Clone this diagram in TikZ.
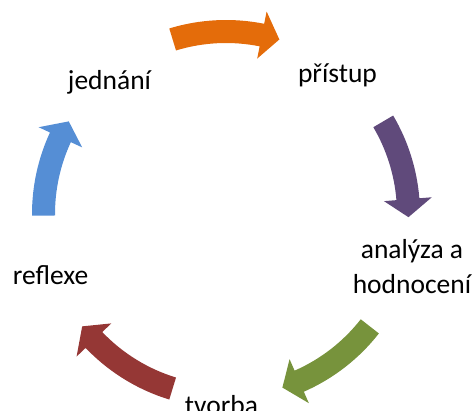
\documentclass[tikz,border=0pt]{standalone}
\usepackage{fontspec}
\setmainfont{Carlito}
\usetikzlibrary{calc}
\definecolor{arrOrange}{HTML}{E46C0A}
\definecolor{arrPurple}{HTML}{604A7B}
\definecolor{arrGreen}{HTML}{77933C}
\definecolor{arrRed}{HTML}{953735}
\definecolor{arrBlue}{HTML}{558ED5}
\begin{document}
\begin{tikzpicture}[x=1pt,y=1pt,
  lbl/.style={font=\fontsize{27.5}{35}\selectfont, inner sep=0pt, anchor=base, text=black}]
\useasboundingbox (0,0) rectangle (474,410);
\coordinate (C) at (226,196);
\foreach \ta/\ha/\ca in {107/73/arrOrange, 30.5/-1/arrPurple, -38/-72/arrGreen, -107/-142/arrRed, 180.5/149.5/arrBlue}{
  \pgfmathsetmacro{\ba}{\ha+5.65}
  \fill[\ca] ([shift={(\ta:194pt)}]C) arc[start angle=\ta, end angle=\ba, radius=194pt]
    -- ([shift={(\ba:206.5pt)}]C) -- ([shift={(\ha:182.5pt)}]C) -- ([shift={(\ba:158.5pt)}]C)
    -- ([shift={(\ba:171pt)}]C) arc[start angle=\ba, end angle=\ta, radius=171pt] -- cycle;
}
\node[lbl] (pristup) at (337.5,327.5) {přístup};
\node[lbl] (jednani) at (109.5,320.5) {jednání};
\node[lbl, align=center] (analyza) at (412,117) {analýza a\\hodnocení};
\node[lbl] (reflexe) at (50.5,125) {reflexe};
\node[lbl] (tvorba) at (221.5,-4) {tvorba};
\end{tikzpicture}
\end{document}
